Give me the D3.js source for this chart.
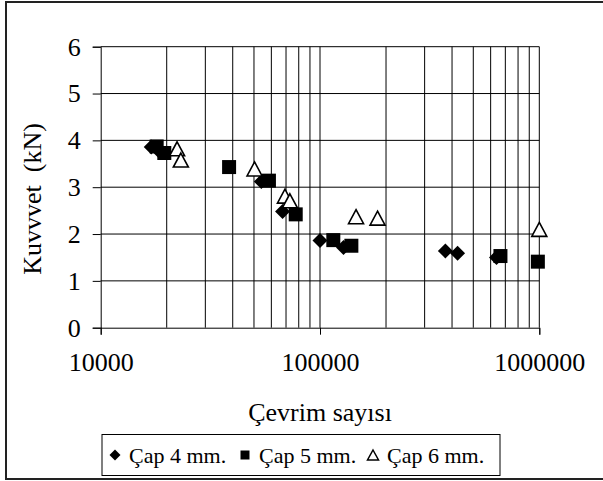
<!DOCTYPE html>
<html>
<head>
<meta charset="utf-8">
<script src="https://d3js.org/d3.v7.min.js"></script>
<style>
  body { margin: 0; background: #fff; }
  text { font-family: "Liberation Serif", "Times New Roman", serif; fill: #000; }
</style>
</head>
<body>
<div id="chart"></div>
<script>
// Data
var cap4X = [17000, 18300, 54000, 67500, 100000, 128000, 373000, 424000, 638000];
var cap4Y = [3.86, 3.79, 3.12, 2.48, 1.86, 1.71, 1.64, 1.59, 1.50];
var cap5X = [18000, 19500, 38500, 58500, 77500, 115000, 139000, 665000, 985000];
var cap5Y = [3.87, 3.73, 3.43, 3.14, 2.42, 1.87, 1.75, 1.53, 1.41];
var cap6X = [22300, 23200, 50300, 69200, 72900, 146000, 183000, 1000000];
var cap6Y = [3.82, 3.58, 3.39, 2.81, 2.71, 2.37, 2.34, 2.10];
var seriesNames = ["Çap 4 mm.", "Çap 5 mm.", "Çap 6 mm."];
var yTicks = [0, 1, 2, 3, 4, 5, 6];
var xMajor = [10000, 100000, 1000000];

var width = 603, height = 481;
var svg = d3.select("#chart").append("svg")
  .attr("width", width).attr("height", height);

// outer frame
svg.append("rect")
  .attr("x", 6).attr("y", 2).attr("width", 600).attr("height", 477)
  .attr("fill", "none").attr("stroke", "#222").attr("stroke-width", 2);

var x = d3.scaleLog().domain([10000, 1000000]).range([100.7, 539.3]);
var y = d3.scaleLinear().domain([0, 6]).range([327.7, 46.7]);

// minor + major vertical gridlines
var xGrid = [];
[10000, 100000].forEach(function(dec) {
  for (var k = 2; k <= 10; k++) xGrid.push(dec * k);
});
svg.append("g").selectAll("line").data(xGrid).enter().append("line")
  .attr("x1", function(d) { return x(d); }).attr("x2", function(d) { return x(d); })
  .attr("y1", y(6)).attr("y2", y(0))
  .attr("stroke", "#000").attr("stroke-width", 1);

// horizontal gridlines
svg.append("g").selectAll("line").data(yTicks.slice(1)).enter().append("line")
  .attr("x1", x(10000)).attr("x2", x(1000000))
  .attr("y1", function(d) { return y(d); }).attr("y2", function(d) { return y(d); })
  .attr("stroke", "#000").attr("stroke-width", 1);

// y axis
var yAxis = svg.append("g")
  .attr("transform", "translate(" + x(10000) + ",0)")
  .call(d3.axisLeft(y).tickValues(yTicks).tickSize(8).tickPadding(12).tickFormat(d3.format("d")));
yAxis.select(".domain").attr("stroke", "#000");
yAxis.attr("font-family", null);
yAxis.selectAll("text").style("font-size", "26px");

// x axis
var xAxis = svg.append("g")
  .attr("transform", "translate(0," + y(0) + ")")
  .call(d3.axisBottom(x).tickValues(xMajor).tickSize(7).tickPadding(18).tickFormat(d3.format("d")));
xAxis.select(".domain").attr("stroke", "#000");
xAxis.attr("font-family", null);
xAxis.selectAll("text").style("font-size", "26px");

// axis titles
svg.append("text")
  .attr("x", 320).attr("y", 421)
  .attr("text-anchor", "middle")
  .style("font-size", "26px")
  .text("Çevrim sayısı");

svg.append("text")
  .attr("transform", "translate(41,199) rotate(-90)")
  .attr("text-anchor", "middle")
  .style("font-size", "26px")
  .style("white-space", "pre")
  .text("Kuvvvet  (kN)");

// marker shapes
function diamondPath(s) {
  return "M0," + (-s) + "L" + s + ",0L0," + s + "L" + (-s) + ",0Z";
}
function squarePath(s) {
  return "M" + (-s) + "," + (-s) + "H" + s + "V" + s + "H" + (-s) + "Z";
}
function trianglePath(w, h) {
  return "M0," + (-h / 2) + "L" + (w / 2) + "," + (h / 2) + "L" + (-w / 2) + "," + (h / 2) + "Z";
}

var s4 = cap4X.map(function(v, i) { return { x: v, y: cap4Y[i] }; });
var s5 = cap5X.map(function(v, i) { return { x: v, y: cap5Y[i] }; });
var s6 = cap6X.map(function(v, i) { return { x: v, y: cap6Y[i] }; });

svg.append("g").selectAll("path").data(s4).enter().append("path")
  .attr("d", diamondPath(7.5))
  .attr("transform", function(d) { return "translate(" + x(d.x) + "," + y(d.y) + ")"; })
  .attr("fill", "#000");

svg.append("g").selectAll("path").data(s5).enter().append("path")
  .attr("d", squarePath(7))
  .attr("transform", function(d) { return "translate(" + x(d.x) + "," + y(d.y) + ")"; })
  .attr("fill", "#000");

svg.append("g").selectAll("path").data(s6).enter().append("path")
  .attr("d", trianglePath(15, 14))
  .attr("transform", function(d) { return "translate(" + x(d.x) + "," + y(d.y) + ")"; })
  .attr("fill", "#fff").attr("stroke", "#000").attr("stroke-width", 1.6);

// legend
var legend = svg.append("g");
legend.append("rect")
  .attr("x", 102).attr("y", 434.5).attr("width", 398).attr("height", 41)
  .attr("fill", "#fff").attr("stroke", "#000").attr("stroke-width", 1);

var legendX = [115, 245, 373];
var legendMarks = [diamondPath(5.5), squarePath(4.5), trianglePath(11, 10)];
seriesNames.forEach(function(name, i) {
  legend.append("path")
    .attr("d", legendMarks[i])
    .attr("transform", "translate(" + legendX[i] + ",455)")
    .attr("fill", i === 2 ? "#fff" : "#000")
    .attr("stroke", i === 2 ? "#000" : "none")
    .attr("stroke-width", 1.5);
  legend.append("text")
    .attr("x", legendX[i] + 14).attr("y", 463)
    .style("font-size", "22px")
    .text(name);
});
</script>
</body>
</html>
